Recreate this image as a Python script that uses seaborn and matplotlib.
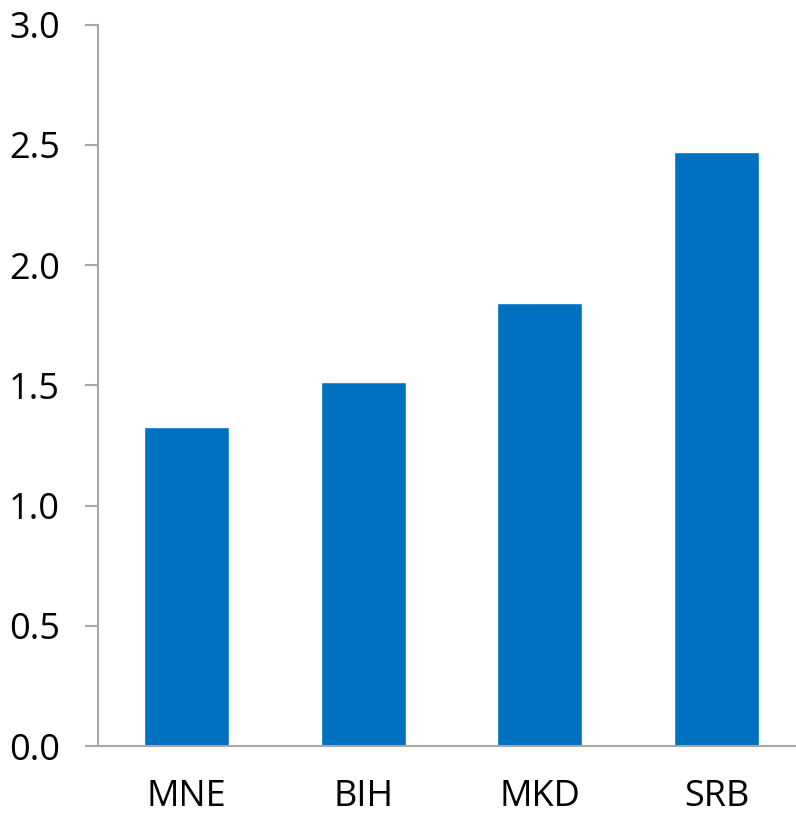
import matplotlib
matplotlib.use("Agg")
import matplotlib.pyplot as plt
import seaborn as sns
import pandas as pd

categories = ["MNE", "BIH", "MKD", "SRB"]
values = [1.327, 1.513, 1.841, 2.471]
yticks = [0.0, 0.5, 1.0, 1.5, 2.0, 2.5, 3.0]

sns.set_style("white")
plt.rcParams["font.family"] = ["Open Sans", "DejaVu Sans"]

df = pd.DataFrame({"country": categories, "value": values})

fig = plt.figure(figsize=(7.96, 8.16), dpi=100)
W, H = 796, 816
left, right, bottom, top = 98, 805, 70, 816 - 24.7
ax = fig.add_axes([left / W, bottom / H, (right - left) / W, (top - bottom) / H])

sns.barplot(data=df, x="country", y="value", color="#0070C0", saturation=1,
            width=0.48, ax=ax)

ax.set_xlim(-0.5, 3.5)
ax.set_ylim(0, 3.0)
ax.set_yticks(yticks)
ax.set_yticklabels([f"{t:.1f}" for t in yticks])
ax.set_xlabel("")
ax.set_ylabel("")

axis_color = "#A6A6A6"
for s in ["top", "right"]:
    ax.spines[s].set_visible(False)
for s in ["left", "bottom"]:
    ax.spines[s].set_color(axis_color)
    ax.spines[s].set_linewidth(1.5)

ax.tick_params(axis="y", direction="out", length=9.5, width=1.5, color=axis_color,
               labelsize=26, pad=18, left=True)
ax.tick_params(axis="x", length=0, labelsize=26, pad=24)
for lbl in ax.get_xticklabels() + ax.get_yticklabels():
    lbl.set_color("black")

fig.savefig("out.png", dpi=100)
